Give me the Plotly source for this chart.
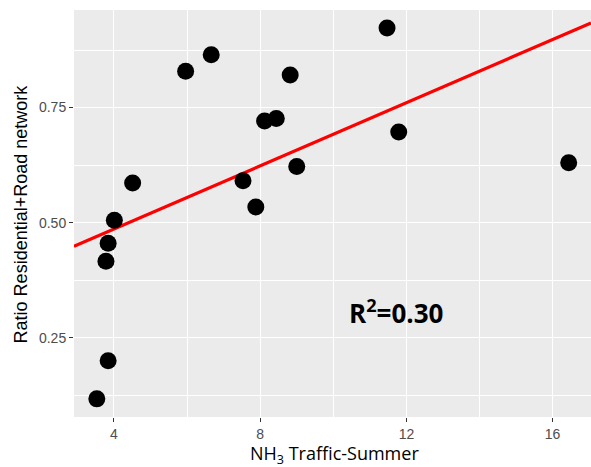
import numpy as np
import plotly.graph_objects as go

nh3_traffic = [3.53, 3.84, 3.78, 3.84, 4.01, 4.51, 5.96, 6.66, 7.53, 7.88, 8.12, 8.44, 8.82, 9.00, 11.47, 11.79, 16.44]
ratio = [0.117, 0.200, 0.416, 0.455, 0.505, 0.586, 0.829, 0.865, 0.591, 0.534, 0.721, 0.726, 0.821, 0.622, 0.923, 0.697, 0.630]
x_ticks = [4, 8, 12, 16]
y_ticks = [0.25, 0.50, 0.75]
y_tick_labels = ["0.25", "0.50", "0.75"]
r2_label = "R<sup>2</sup>=0.30"
x_title = "NH<sub>3</sub> Traffic-Summer"
y_title = "Ratio Residential+Road network"

X_RANGE = [2.906, 17.05]
Y_RANGE = [0.0776, 0.962]

slope, intercept = np.polyfit(nh3_traffic, ratio, 1)
fit_x = np.array(X_RANGE)
fit_y = slope * fit_x + intercept

fig = go.Figure()
fig.add_trace(go.Scatter(x=fit_x, y=fit_y, mode="lines",
                         line=dict(color="#FF0000", width=3.2), showlegend=False, hoverinfo="skip"))
fig.add_trace(go.Scatter(x=nh3_traffic, y=ratio, mode="markers",
                         marker=dict(color="black", size=17, line=dict(width=0)), showlegend=False))

fig.add_annotation(x=11.72, y=0.306, xref="x", yref="y", text="<b>" + r2_label + "</b>",
                   showarrow=False, font=dict(family="Open Sans", size=26, color="black"))

# axis titles
fig.add_annotation(x=0.504, y=-0.093, xref="paper", yref="paper", text=x_title,
                   showarrow=False, xanchor="center", yanchor="middle",
                   font=dict(family="Open Sans", size=18, color="black"))
fig.add_annotation(x=-0.1035, y=0.499, xref="paper", yref="paper", text=y_title,
                   showarrow=False, xanchor="center", yanchor="middle", textangle=-90,
                   font=dict(family="Liberation Sans, Arial", size=18, color="black"))

fig.update_layout(
    width=591, height=467,
    margin=dict(l=74, r=0, t=10, b=50),
    paper_bgcolor="white", plot_bgcolor="#EBEBEB",
    font=dict(family="Liberation Sans, Arial", color="black"),
)
fig.update_xaxes(
    range=X_RANGE, tickvals=x_ticks, ticktext=[str(t) for t in x_ticks],
    showgrid=True, gridcolor="white", gridwidth=1.2, zeroline=False,
    ticks="outside", ticklen=4, tickcolor="#333333", tickwidth=1,
    tickfont=dict(size=14, color="#4D4D4D"),
    minor=dict(tickvals=[2, 6, 10, 14], showgrid=True, gridcolor="white", gridwidth=0.6, ticks=""),
    showline=False,
)
fig.update_yaxes(
    range=Y_RANGE, tickvals=y_ticks, ticktext=y_tick_labels,
    showgrid=True, gridcolor="white", gridwidth=1.2, zeroline=False,
    ticks="outside", ticklen=4, tickcolor="#333333", tickwidth=1,
    tickfont=dict(size=14, color="#4D4D4D"),
    minor=dict(tickvals=[0.125, 0.375, 0.625, 0.875], showgrid=True, gridcolor="white", gridwidth=0.6, ticks=""),
    showline=False,
)

fig.write_html("out.html")
